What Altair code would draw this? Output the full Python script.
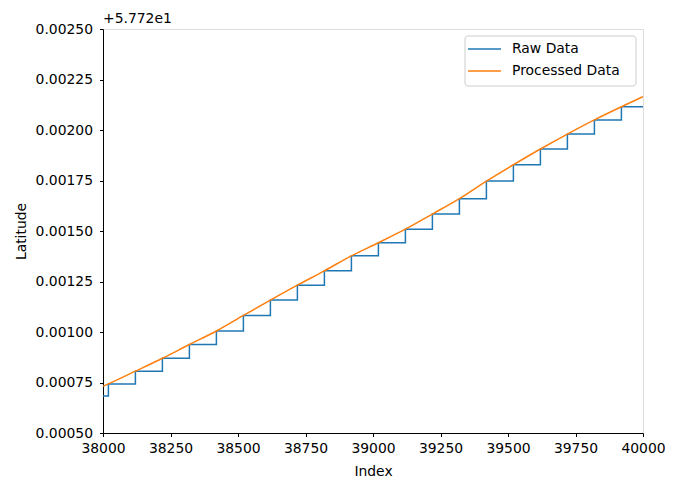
import altair as alt
import pandas as pd

OFFSET_LABEL = "+5.772e1"

# Raw data (step-after): x positions and latitude offsets from 57.72
raw_x = [38000, 38020, 38120, 38220, 38320, 38420, 38520, 38620, 38720, 38820,
         38920, 39020, 39120, 39220, 39320, 39420, 39520, 39620, 39720, 39820,
         39920, 40000]
raw_y = [0.000683, 0.000743, 0.000806, 0.000870, 0.000938, 0.001005, 0.001082,
         0.001158, 0.001232, 0.001303, 0.001377, 0.001442, 0.001509, 0.001584,
         0.001660, 0.001747, 0.001828, 0.001906, 0.001980, 0.002050, 0.002115,
         0.002115]

# Processed data (smooth)
proc_x = [38000, 38020, 38120, 38220, 38320, 38420, 38520, 38620, 38720, 38820,
          38920, 39020, 39120, 39220, 39320, 39420, 39520, 39620, 39720, 39820,
          39920, 40000]
proc_y = [0.000731, 0.000743, 0.000806, 0.000870, 0.000938, 0.001005, 0.001082,
          0.001158, 0.001232, 0.001303, 0.001377, 0.001442, 0.001509, 0.001584,
          0.001660, 0.001747, 0.001828, 0.001906, 0.001980, 0.002050, 0.002115,
          0.002165]

series = ["Raw Data", "Processed Data"]
colors = ["#1f77b4", "#ff7f0e"]

x_ticks = [38000, 38250, 38500, 38750, 39000, 39250, 39500, 39750, 40000]
y_ticks = [0.0005, 0.00075, 0.001, 0.00125, 0.0015, 0.00175, 0.002, 0.00225, 0.0025]

raw_df = pd.DataFrame({"Index": raw_x, "Latitude": raw_y, "series": series[0]})
proc_df = pd.DataFrame({"Index": proc_x, "Latitude": proc_y, "series": series[1]})

FONT = "DejaVu Sans"
FS = 13.9
W, H = 540, 404

x_enc = alt.X("Index:Q",
              scale=alt.Scale(domain=[38000, 40000], nice=False, zero=False),
              axis=alt.Axis(values=x_ticks, format="d", title="Index", grid=False,
                            tickSize=3.5, tickColor="black", domainColor="black",
                            labelFont=FONT, titleFont=FONT, labelFontSize=FS,
                            titleFontSize=FS, titleFontWeight="normal",
                            labelColor="black", titleColor="black",
                            labelPadding=5, titlePadding=9, labelFlush=False))
y_enc = alt.Y("Latitude:Q",
              scale=alt.Scale(domain=[0.0005, 0.0025], nice=False, zero=False),
              axis=alt.Axis(values=y_ticks, format=".5f", title="Latitude", grid=False,
                            tickSize=3.5, tickColor="black", domainColor="black",
                            labelFont=FONT, titleFont=FONT, labelFontSize=FS,
                            titleFontSize=FS, titleFontWeight="normal",
                            labelColor="black", titleColor="black",
                            labelPadding=7, titlePadding=7, labelFlush=False))
color_enc = alt.Color("series:N",
                      scale=alt.Scale(domain=series, range=colors),
                      legend=None)

raw = alt.Chart(raw_df).mark_line(interpolate="step-after", strokeWidth=1.5, clip=True).encode(
    x=x_enc, y=y_enc, color=color_enc)
proc = alt.Chart(proc_df).mark_line(interpolate="monotone", strokeWidth=1.5, clip=True).encode(
    x=x_enc, y=y_enc, color=color_enc)

one = pd.DataFrame({"t": [OFFSET_LABEL]})
offset_text = alt.Chart(one).mark_text(
    align="left", baseline="bottom", font=FONT, fontSize=FS, color="black"
).encode(x=alt.value(0), y=alt.value(-3), text="t:N")

# Legend box (matplotlib style), anchored to the upper right of the plot
lx0 = W - 178
legend_box = alt.Chart(one).mark_rect(
    fill="white", fillOpacity=0.8, stroke="#cccccc", strokeWidth=1, cornerRadius=3
).encode(x=alt.value(lx0), x2=alt.value(W - 7), y=alt.value(7), y2=alt.value(57))

legend_layers = []
row_y = [20, 42]
for name, col, ry in zip(series, colors, row_y):
    d = pd.DataFrame({"t": [name]})
    legend_layers.append(
        alt.Chart(d).mark_rule(color=col, strokeWidth=1.5).encode(
            x=alt.value(lx0 + 3), x2=alt.value(lx0 + 36), y=alt.value(ry)))
    legend_layers.append(
        alt.Chart(d).mark_text(align="left", baseline="middle", font=FONT,
                               fontSize=FS, color="black").encode(
            x=alt.value(lx0 + 47), y=alt.value(ry), text="t:N"))

chart = alt.layer(raw, proc, offset_text, legend_box, *legend_layers).properties(
    width=W, height=H,
    autosize=alt.AutoSizeParams(type="none"),
    padding={"left": 95, "top": 21, "right": 22, "bottom": 46},
).configure_view(stroke="black", strokeWidth=1).configure(background="white")

chart.save("out.html", embed_options={"renderer": "svg", "actions": False})
